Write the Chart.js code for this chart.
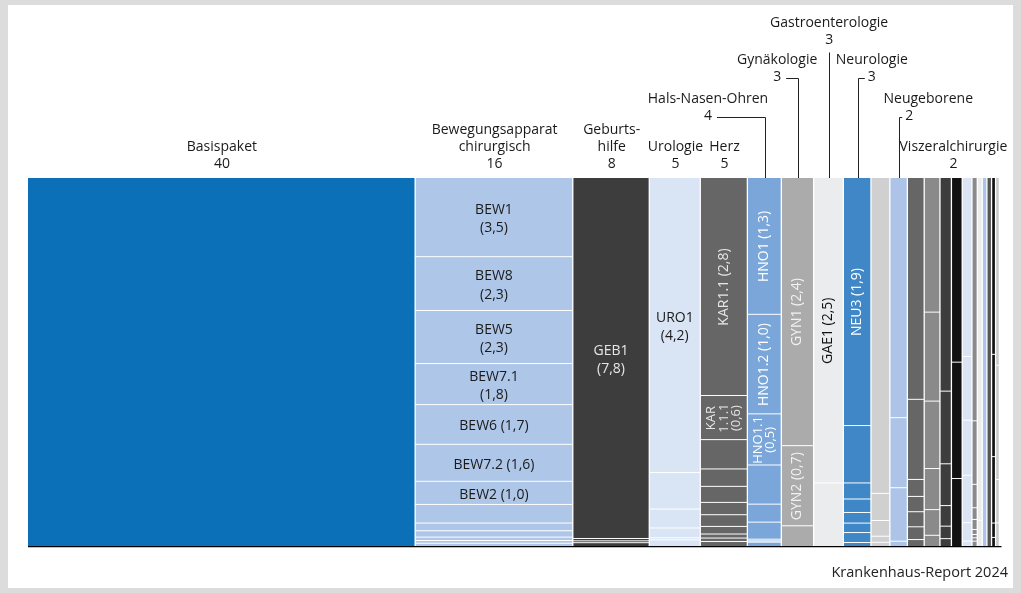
<!DOCTYPE html>
<html><head><meta charset="utf-8">
<script src="https://cdn.jsdelivr.net/npm/chart.js@4/dist/chart.umd.min.js"></script>
<style>
html,body{margin:0;padding:0;background:#dcdcdc;width:1021px;height:593px;overflow:hidden}
#frame{position:absolute;left:8px;top:5px;width:1005px;height:583px;background:#fff}
#wrap{position:absolute;left:0;top:0;width:1021px;height:593px}
#credit{position:absolute;right:13px;top:562px;font:14.5px "Open Sans",sans-serif;color:#222}
</style></head><body>
<div id="frame"></div>
<div id="wrap"><canvas id="c"></canvas></div>
<div id="credit">Krankenhaus-Report 2024</div>
<script>
// ---- data ----
const categories = ['Basispaket','Bewegungsapparat\nchirurgisch','Geburts-\nhilfe','Urologie','Herz','Hals-Nasen-Ohren','Gynäkologie','Gastroenterologie','Neurologie','','Neugeborene','Viszeralchirurgie'];
const categoryValues = [40,16,8,5,5,4,3,3,3,null,2,2];

const seg0  = [39.9];
const seg1  = [3.49,2.37,2.34,1.81,1.75,1.63,1.02,0.82,0.34,0.28,0.15,0.12,0.1];
const seg2  = [7.72,0.05,0.04,0.06];
const seg3  = [4.21,0.52,0.27,0.14,0.03,0.08];
const seg4  = [2.868,0.58,0.386,0.229,0.211,0.162,0.154,0.1,0.053,0.045,0.053];
const seg5  = [1.30,0.946,0.486,0.372,0.171,0.162,0.016,0.012,0.032];
const seg6  = [2.42,0.723,0.178];
const seg7  = [2.54,0.52];
const seg8  = [1.915,0.443,0.124,0.104,0.082,0.073,0.077,0.023];
const seg9  = [1.667,0.143,0.083,0.032,0.017];
const seg10 = [1.176,0.343,0.262,0.021];
const seg11 = [1.044,0.377,0.08,0.072,0.071,0.06,0.028];
const seg12 = [0.593,0.392,0.297,0.181,0.113,0.045];
const seg13 = [0.685,0.233,0.134,0.066,0.04,0.022];
const seg14 = [0.557,0.351,0.202];
const seg15 = [0.487,0.173,0.15,0.129,0.05,0.012];
const seg16 = [0.364,0.095,0.035,0.0175,0.015,0.0075,0.005,0.005,0.0065];
const seg17 = [0.475,0.035];
const seg18 = [0.48];
const seg19 = [0.48];
const seg20 = [0.197,0.114,0.074,0.016,0.009];
const seg21 = [0.199,0.121,0.046,0.024];
const segmentValues = [seg0,seg1,seg2,seg3,seg4,seg5,seg6,seg7,seg8,seg9,seg10,seg11,seg12,seg13,seg14,seg15,seg16,seg17,seg18,seg19,seg20,seg21];

const segmentLabels = [
  [],
  ['BEW1\n(3,5)','BEW8\n(2,3)','BEW5\n(2,3)','BEW7.1\n(1,8)','BEW6 (1,7)','BEW7.2 (1,6)','BEW2 (1,0)'],
  ['GEB1\n(7,8)'],
  ['URO1\n(4,2)'],
  ['KAR1.1 (2,8)','KAR\n1.1.1\n(0,6)'],
  ['HNO1 (1,3)','HNO1.2 (1,0)','HNO1.1\n(0,5)'],
  ['GYN1 (2,4)','GYN2 (0,7)'],
  ['GAE1 (2,5)'],
  ['NEU3 (1,9)']
];

// ---- styles / layout ----
const colColors = ['#0b70b7','#aec6e8','#3d3d3d','#d9e4f5','#666666','#7aa6da','#ababab','#ebeced','#3f87c6','#d0d0d0','#adc4e8','#666666','#8a8a8a','#3d3d3d','#121212','#dae4f5','#8a8a8a','#ececec','#adc4e8','#555555','#121212','#c8c8c8'];
const textColors = [null,'#1a1a1a','#e6e6e6','#1a1a1a','#e6e6e6','#ffffff','#f2f2f2','#111111','#ffffff'];
const rotated = [false,false,false,false,true,true,true,true,true];
const headerLift = [0,0,0,0,0,48,87,124,87,0,48,0];
const headerDx   = [0,0,0,0,0,-57,-21,0,14,0,29,37];
const valueDx    = [0,0,0,0,0,-57,-21,0,14,0,10,37];
const leaderType = [null,null,null,null,null,'right','right','down','left',null,'left',null];

const colSums = segmentValues.map(s => s.reduce((a,b)=>a+b,0));
const total = colSums.reduce((a,b)=>a+b,0);
const centers = []; { let c=0; colSums.forEach(w=>{centers.push({x:c+w/2,y:0.5}); c+=w;}); }

const FONT = '"Open Sans", sans-serif';

const mekko = {
  id:'mekko',
  afterDatasetsDraw(chart){
    const {ctx, chartArea:a, scales:{x,y}} = chart;
    ctx.save();
    let cum = 0;
    const colGap = 1.3;
    segmentValues.forEach((segs,i)=>{
      const w = colSums[i];
      const L = x.getPixelForValue(cum), R = x.getPixelForValue(cum+w);
      let sc = 0;
      segs.forEach((v,j)=>{
        const T = y.getPixelForValue(sc/w), B = y.getPixelForValue((sc+v)/w);
        ctx.fillStyle = colColors[i];
        const gb = j < segs.length-1 ? 1 : 0;
        ctx.fillRect(L, T, R-L-colGap, Math.max(0,B-T-gb));
        const lab = segmentLabels[i] && segmentLabels[i][j];
        if (lab){
          const lines = lab.split('\n');
          const cx = (L + R - colGap)/2, cy = (T+B)/2;
          ctx.fillStyle = textColors[i];
          ctx.textAlign='center'; ctx.textBaseline='middle';
          if (rotated[i]){
            const small = lines.length>1;
            ctx.font = (small? '13px ':'14px ') + FONT;
            const lh = small? 12.5 : 15;
            ctx.save(); ctx.translate(cx, cy); ctx.rotate(-Math.PI/2);
            lines.forEach((t,k)=> ctx.fillText(t, 0, (k-(lines.length-1)/2)*lh));
            ctx.restore();
          } else {
            ctx.font = '14px ' + FONT;
            const lh = 18.5;
            lines.forEach((t,k)=> ctx.fillText(t, cx, cy + 1.5 + (k-(lines.length-1)/2)*lh));
          }
        }
        sc += v;
      });
      cum += w;
    });
    ctx.strokeStyle = '#000'; ctx.lineWidth = 1.3;
    ctx.beginPath(); ctx.moveTo(a.left, a.bottom+0.6); ctx.lineTo(a.right+1.5, a.bottom+0.6); ctx.stroke();

    ctx.font = '14px ' + FONT; ctx.fillStyle = '#1a1a1a';
    ctx.textAlign='center'; ctx.textBaseline='middle';
    const baseY = a.top - 13.5, lh = 17;
    categories.forEach((name,i)=>{
      if (!name) return;
      const cx = x.getPixelForValue(centers[i].x);
      const vy = baseY - headerLift[i];
      const names = name.split('\n');
      ctx.fillStyle = '#1a1a1a';
      names.forEach((t,k)=> ctx.fillText(t, cx + headerDx[i], vy - (names.length-k)*lh));
      const vt = String(categoryValues[i]);
      const vx = cx + valueDx[i];
      ctx.fillText(vt, vx, vy);
      const tw = ctx.measureText(vt).width;
      ctx.strokeStyle = '#222'; ctx.lineWidth = 1;
      const ly = Math.round(vy)+0.5, lx = Math.round(cx)+0.5;
      if (leaderType[i]==='right'){
        ctx.beginPath(); ctx.moveTo(vx+tw/2+5, ly); ctx.lineTo(lx, ly); ctx.lineTo(lx, a.top); ctx.stroke();
      } else if (leaderType[i]==='left'){
        ctx.beginPath(); ctx.moveTo(vx-tw/2-3, ly); ctx.lineTo(lx, ly); ctx.lineTo(lx, a.top); ctx.stroke();
      } else if (leaderType[i]==='down'){
        ctx.beginPath(); ctx.moveTo(lx, vy+12); ctx.lineTo(lx, a.top); ctx.stroke();
      }
    });
    ctx.restore();
  }
};

new Chart(document.getElementById('c'), {
  type:'scatter',
  data:{datasets:[{data:centers, pointRadius:0, pointHoverRadius:0}]},
  options:{
    responsive:true, maintainAspectRatio:false, animation:false,
    layout:{padding:{left:28,right:21,top:178,bottom:47}},
    plugins:{legend:{display:false},tooltip:{enabled:false}},
    events:[],
    scales:{
      x:{type:'linear',min:0,max:total,display:false},
      y:{type:'linear',min:0,max:1,reverse:true,display:false}
    }
  },
  plugins:[mekko]
});
</script>
</body></html>
